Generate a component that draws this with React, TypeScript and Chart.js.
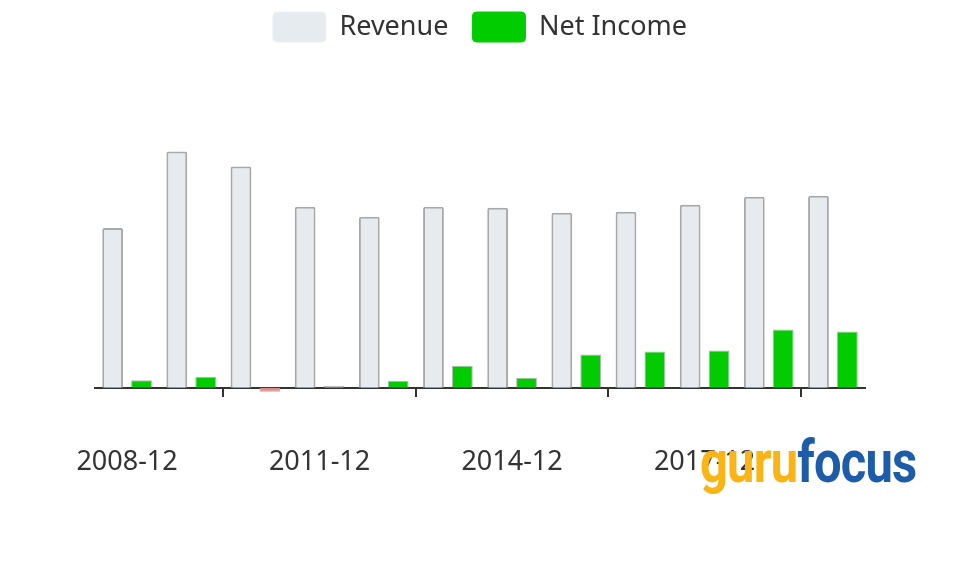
import React, { useEffect, useRef } from "react";
import { Chart, registerables } from "chart.js";

Chart.register(...registerables);

const categories = [
  "2008-12", "2009-12", "2010-12", "2011-12", "2012-12", "2013-12",
  "2014-12", "2015-12", "2016-12", "2017-12", "2018-12", "2019-12",
];
const revenue = [1590, 2350, 2200, 1800, 1700, 1800, 1790, 1740, 1750, 1820, 1900, 1910];
const netIncome = [75, 110, -40, 20, 70, 220, 100, 330, 360, 370, 580, 560];
const shownLabels = ["2008-12", "2011-12", "2014-12", "2017-12"];
const tickMarkIndexes = [2, 5, 8, 11];

const FONT = "'Noto Sans', 'Open Sans', sans-serif";

export default function App() {
  const ref = useRef<HTMLCanvasElement | null>(null);

  useEffect(() => {
    if (!ref.current) return;
    const chart = new Chart(ref.current, {
      type: "bar",
      data: {
        labels: categories,
        datasets: [
          {
            label: "Revenue",
            data: revenue,
            backgroundColor: "#e6ebf0",
            borderColor: "#a8a8a8",
            borderWidth: 2,
            borderRadius: 2,
            categoryPercentage: 0.9,
            barPercentage: 0.72,
          },
          {
            label: "Net Income",
            data: netIncome,
            backgroundColor: (ctx: any) => (ctx.raw < 0 ? "#de8a8a" : ctx.raw < 30 ? "#a9b5a9" : "#00cc00"),
            borderColor: (ctx: any) => (ctx.raw < 0 ? "#d49a9a" : "rgba(90,90,90,0.45)"),
            borderWidth: 1,
            categoryPercentage: 0.9,
            barPercentage: 0.72,
          },
        ],
      },
      options: {
        responsive: false,
        animation: false,
        layout: { padding: { left: 95, right: 94, top: -12, bottom: 137 } },
        plugins: {
          tooltip: { enabled: false },
          legend: {
            position: "top",
            labels: {
              boxWidth: 53,
              boxHeight: 30,
              padding: 24,
              color: "#333",
              font: { family: FONT, size: 27 },
              useBorderRadius: true,
              borderRadius: 4,
              generateLabels: () => [
                { text: "Revenue", fillStyle: "#e6ebf0", strokeStyle: "#edf0f4", lineWidth: 1, hidden: false, datasetIndex: 0, fontColor: "#333", borderRadius: 4 },
                { text: "Net Income", fillStyle: "#00cc00", strokeStyle: "#00cc00", lineWidth: 1, hidden: false, datasetIndex: 1, fontColor: "#333", borderRadius: 4 },
              ],
            },
          },
        },
        scales: {
          x: {
            position: { y: 0 } as any,
            offset: true,
            grid: {
              offset: true,
              drawOnChartArea: false,
              drawTicks: true,
              tickLength: 8,
              lineWidth: 2,
              color: (ctx: any) => (tickMarkIndexes.includes(ctx.index) ? "#333" : "rgba(0,0,0,0)"),
            },
            border: { display: true, color: "#333", width: 2 },
            ticks: {
              autoSkip: false,
              maxRotation: 0,
              minRotation: 0,
              padding: 50,
              color: "#333",
              font: { family: FONT, size: 27 },
              callback: (_v: any, i: number) => (shownLabels.includes(categories[i]) ? categories[i] : ""),
            },
          },
          y: {
            display: false,
            min: -420,
            max: 3340,
          },
        },
      },
    });
    return () => chart.destroy();
  }, []);

  return (
    <div style={{ position: "fixed", left: 0, top: 0, width: 959, height: 567, background: "#fff" }}>
      <canvas ref={ref} width={959} height={567} style={{ width: 959, height: 567, display: "block" }} />
      <div
        style={{
          position: "absolute",
          left: 700,
          top: 432,
          fontFamily: "Roboto, sans-serif",
          fontWeight: 700,
          fontSize: 60,
          lineHeight: 1,
          transform: "scaleX(0.815)",
          transformOrigin: "left top",
          whiteSpace: "nowrap",
          letterSpacing: -1,
        }}
      >
        <span style={{ color: "#fbb416" }}>guru</span>
        <span style={{ color: "#1c5ca8" }}>focus</span>
      </div>
    </div>
  );
}
